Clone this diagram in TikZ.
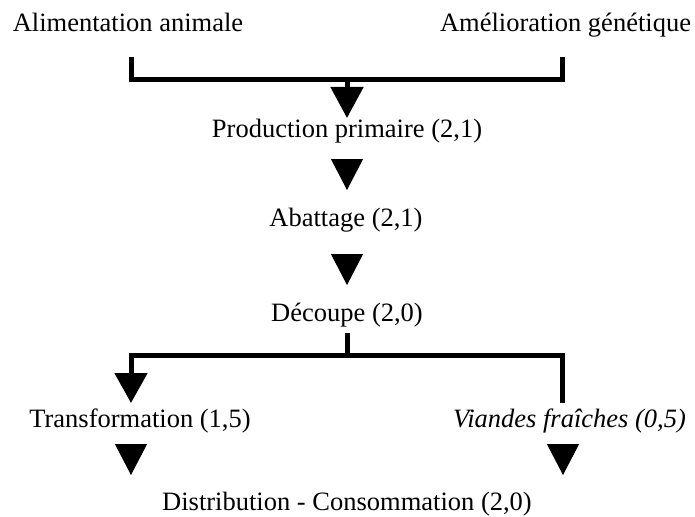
\documentclass[tikz,border=0pt]{standalone}
\usepackage{fontspec}
\setmainfont{Liberation Serif}
\usetikzlibrary{arrows.meta}
\begin{document}
\begin{tikzpicture}[x=1pt,y=-1pt,
  lbl/.style={anchor=base,inner sep=0pt,font=\fontsize{26.5}{30}\selectfont},
  bar/.style={line width=5pt,line join=miter,line cap=butt},
  tri/.style={line width=1pt,-{Triangle[width=32pt,length=31pt]}},
  bartri/.style={bar,-{Triangle[width=32pt,length=30pt]}}]
\useasboundingbox (0,0) rectangle (695,516);
% texts
\node[lbl] (alim) at (128,32) {Alimentation animale};
\node[lbl] (amel) at (565.5,32) {Amélioration génétique};
\node[lbl] (prod) at (347,137) {Production primaire (2,1)};
\node[lbl] (abat) at (346,226) {Abattage (2,1)};
\node[lbl] (dec) at (347,321) {Découpe (2,0)};
\node[lbl] (trans) at (140,427) {Transformation (1,5)};
\node[lbl] (vian) at (569.5,427) {\itshape Viandes fraîches (0,5)};
\node[lbl] (dist) at (347,510) {Distribution - Consommation (2,0)};
% top bracket
\coordinate (bl) at (131,57);
\coordinate (br) at (562,57);
\coordinate (bm) at (347,80);
\coordinate (t1) at (347,118);
\draw[bar] (bl) |- (bm) -| (br);
\draw[bar,-{Triangle[width=32pt,length=31pt]}] (bm) -- (t1);
% middle triangles
\coordinate (t2a) at (347,159);
\coordinate (t2b) at (347,190);
\draw[tri] (t2a) -- (t2b);
\coordinate (t3a) at (347,254);
\coordinate (t3b) at (347,285);
\draw[tri] (t3a) -- (t3b);
% split
\coordinate (s0) at (347,333);
\coordinate (s1) at (347,355);
\coordinate (sl) at (131,403);
\coordinate (sr) at (562,403);
\draw[bar] (s0) -- (s1);
\draw[bar] (s1) -| (sr);
\draw[bartri] (s1) -| (sl);
% bottom triangles
\coordinate (t4a) at (131,444);
\coordinate (t4b) at (131,475);
\draw[tri] (t4a) -- (t4b);
\coordinate (t5a) at (563,444);
\coordinate (t5b) at (563,475);
\draw[tri] (t5a) -- (t5b);
\end{tikzpicture}
\end{document}
